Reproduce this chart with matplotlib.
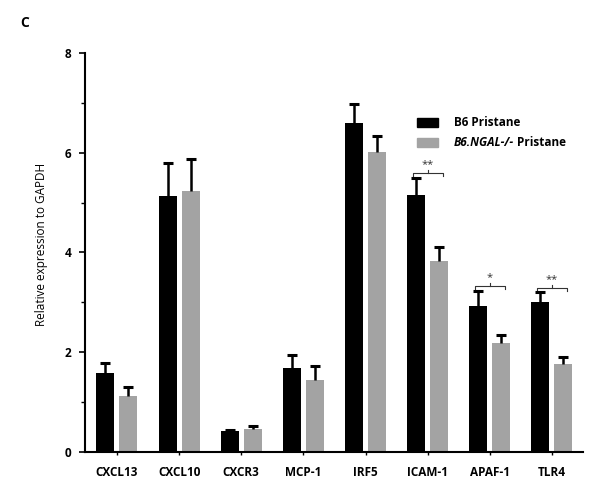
import numpy as np
import matplotlib
matplotlib.use("Agg")
from matplotlib import pyplot as plt
from matplotlib.patches import Rectangle
from matplotlib.offsetbox import AnchoredOffsetbox, VPacker, HPacker, TextArea, DrawingArea

plt.rcParams['font.family'] = ['Open Sans', 'DejaVu Sans']

genes = ['CXCL13', 'CXCL10', 'CXCR3', 'MCP-1', 'IRF5', 'ICAM-1', 'APAF-1', 'TLR4']
b6_mean = [1.58, 5.14, 0.42, 1.69, 6.59, 5.15, 2.93, 3.01]
b6_err = [0.21, 0.65, 0.02, 0.25, 0.38, 0.34, 0.30, 0.19]
ngal_mean = [1.13, 5.24, 0.47, 1.44, 6.02, 3.83, 2.18, 1.76]
ngal_err = [0.17, 0.63, 0.05, 0.28, 0.32, 0.28, 0.16, 0.14]

# significance brackets: group index, bracket height, label
sig_idx = [5, 6, 7]
sig_y = [5.6, 3.33, 3.29]
sig_lab = ['**', '*', '**']

black = '#000000'
grey = '#a3a3a3'

fig = plt.figure(figsize=(6.01, 4.87), dpi=100)
ax = fig.add_axes([0.1414, 0.0719, 0.8286, 0.8193])

x = np.arange(len(genes))
w = 0.29
off = 0.185
ax.bar(x - off, b6_mean, w, color=black, zorder=2)
ax.bar(x + off, ngal_mean, w, color=grey, zorder=2)
for xs, m, e in [(x - off, b6_mean, b6_err), (x + off, ngal_mean, ngal_err)]:
    eb = ax.errorbar(xs, m, yerr=[np.zeros(len(x)), e], fmt='none',
                     ecolor=black, elinewidth=1.8, capsize=3.5, capthick=2.2, zorder=3)
    eb[1][0].set_visible(False)  # hide lower caps

for i, yy, lab in zip(sig_idx, sig_y, sig_lab):
    xl, xr = i - 0.24, i + 0.24
    ax.plot([xl, xl, xr, xr], [yy - 0.07, yy, yy, yy - 0.07], color='#333333', lw=0.8)
    ax.plot([i, i], [yy, yy + 0.05], color='#333333', lw=0.8)
    ax.text(i, yy + 0.06, lab, ha='center', va='bottom', fontsize=8, color='#333333')

ax.set_xlim(-0.515, 7.5)
ax.set_ylim(0, 8)
ax.spines['top'].set_visible(False)
ax.spines['right'].set_visible(False)
ax.spines['left'].set_linewidth(1.5)
ax.spines['bottom'].set_linewidth(1.5)
ax.set_yticks([0, 2, 4, 6, 8])
ax.set_yticks([1, 3, 5, 7], minor=True)
ax.tick_params(axis='y', which='major', length=4, width=1.2, labelsize=8.5, pad=6)
ax.tick_params(axis='y', which='minor', length=3, width=1.0)
ax.set_xticks(x)
ax.set_xticklabels(genes)
ax.tick_params(axis='x', length=2, width=1.0, labelsize=8.5, pad=8)
for t in ax.get_xticklabels() + ax.get_yticklabels():
    t.set_fontweight('bold')
ax.set_ylabel('Relative expression to GAPDH', fontsize=8.5)
ax.yaxis.set_label_coords(-0.074, 0.52)

fig.text(0.033, 0.945, 'C', fontsize=10, fontweight='bold')

# legend
def swatch(c):
    da = DrawingArea(15, 7, 0, 0)
    da.add_artist(Rectangle((0, 0), 15, 7, color=c))
    return da

tp = dict(fontsize=8.5, fontweight='bold')
row1 = HPacker(children=[swatch(black), TextArea('B6 Pristane', textprops=tp)],
               sep=11.5, align='center')
row2 = HPacker(children=[swatch(grey),
                         HPacker(children=[TextArea('B6.NGAL-/-', textprops=dict(tp, style='italic')),
                                           TextArea(' Pristane', textprops=tp)],
                                 sep=0, align='baseline')],
               sep=11.5, align='center')
leg = VPacker(children=[row1, row2], sep=5, align='left')
box = AnchoredOffsetbox(loc='upper left', child=leg, frameon=False,
                        bbox_to_anchor=(417 / 601, 1 - 116 / 487), bbox_transform=fig.transFigure,
                        borderpad=0, pad=0)
ax.add_artist(box)

plt.savefig('out.png', dpi=100)
